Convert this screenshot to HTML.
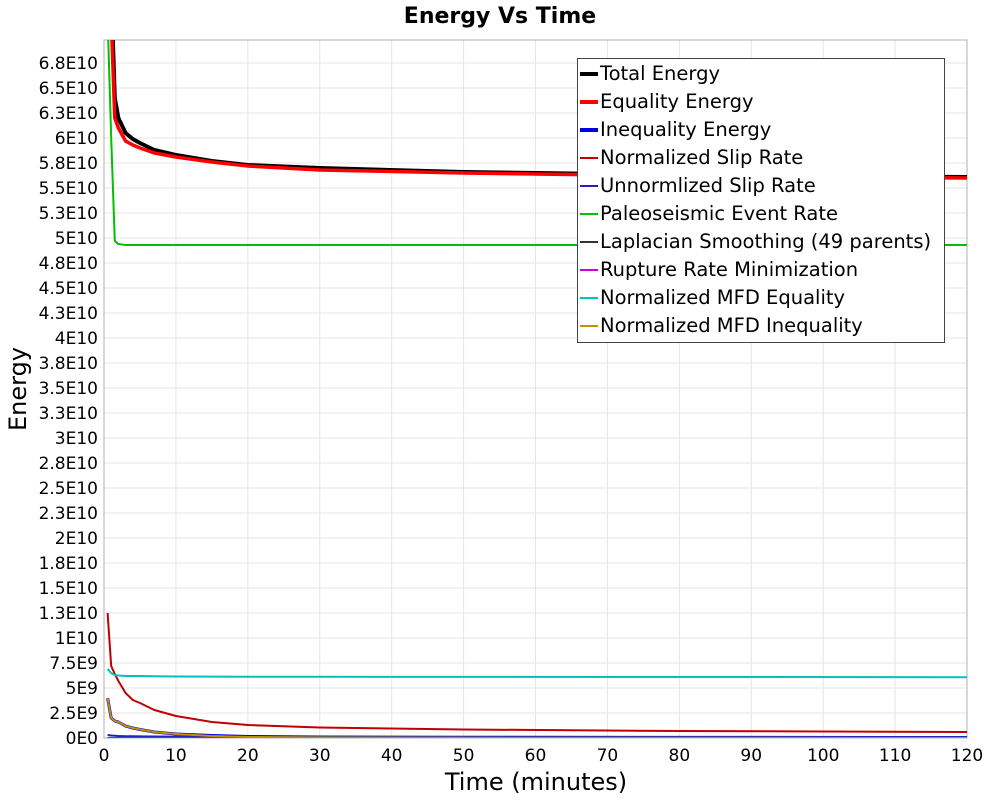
<!DOCTYPE html>
<html><head><meta charset="utf-8"><style>
body{margin:0;background:#fff;font-family:"Liberation Sans","DejaVu Sans",sans-serif}
svg text{font-family:"DejaVu Sans","Liberation Sans",sans-serif}
</style></head><body>
<svg id="chart" width="1000" height="800" xmlns="http://www.w3.org/2000/svg">
<text x="500" y="23" text-anchor="middle" font-size="22" font-weight="bold">Energy Vs Time</text>
<g id="grid"></g><g id="axes"></g><g id="series"></g><g id="legend"></g>
<text x="536" y="790" text-anchor="middle" font-size="24">Time (minutes)</text>
<text x="26" y="389" text-anchor="middle" font-size="24" transform="rotate(-90 26 389)">Energy</text>
</svg>
<script>
const xTicks=[0,10,20,30,40,50,60,70,80,90,100,110,120];
const yTickLabels=["0E0","2.5E9","5E9","7.5E9","1E10","1.3E10","1.5E10","1.8E10","2E10","2.3E10","2.5E10","2.8E10","3E10","3.3E10","3.5E10","3.8E10","4E10","4.3E10","4.5E10","4.8E10","5E10","5.3E10","5.5E10","5.8E10","6E10","6.3E10","6.5E10","6.8E10"];
const times=[0.5,1,1.5,2,3,4,5,7,10,15,20,30,50,80,120];
const totalEnergy=[9.0,7.5,6.4,6.2,6.05,5.99,5.95,5.88,5.83,5.77,5.73,5.70,5.66,5.63,5.61];
const equalityEnergy=[8.8,7.2,6.2,6.1,5.97,5.93,5.9,5.85,5.81,5.76,5.72,5.68,5.65,5.62,5.60];
const inequalityEnergy=[0.40,0.20,0.17,0.16,0.12,0.10,0.085,0.06,0.04,0.025,0.015,0.01,0.008,0.006,0.005];
const normSlip=[1.25,0.72,0.64,0.57,0.45,0.38,0.35,0.28,0.22,0.16,0.13,0.105,0.085,0.07,0.06];
const unnormSlip=[0.03,0.025,0.022,0.02,0.018,0.017,0.016,0.015,0.014,0.013,0.012,0.011,0.01,0.01,0.01];
const paleo=[7.2,6.0,4.97,4.94,4.93,4.93,4.93,4.93,4.93,4.93,4.93,4.93,4.93,4.93,4.93];
const laplacian=[0,0,0,0,0,0,0,0,0,0,0,0,0,0,0];
const ruptureMin=[0,0,0,0,0,0,0,0,0,0,0,0,0,0,0];
const mfdEq=[0.69,0.65,0.63,0.625,0.62,0.62,0.62,0.618,0.615,0.614,0.613,0.612,0.611,0.61,0.608];
const mfdIneq=[0.40,0.20,0.17,0.16,0.12,0.10,0.085,0.06,0.04,0.02,0.01,0.005,0.002,0.001,0];
const NS="http://www.w3.org/2000/svg";
const X0=104,X1=967,Y0=738,YT=40;
const sx=t=>X0+(t/120)*(X1-X0);
const sy=v=>Y0-v*100; // v in units of 1E10
function mk(p,tag,at){const e=document.createElementNS(NS,tag);for(const k in at)e.setAttribute(k,at[k]);p.appendChild(e);return e;}
const grid=document.getElementById('grid'),axes=document.getElementById('axes'),ser=document.getElementById('series'),leg=document.getElementById('legend');
const clip=mk(document.getElementById('chart'),'clipPath',{id:'pc'});mk(clip,'rect',{x:X0,y:YT,width:X1-X0,height:Y0-YT});
yTickLabels.forEach((l,i)=>{const y=sy(i*0.25);
 const g=mk(grid,'line',{x1:X0,x2:X1,y1:y,y2:y,stroke:'#e6e6e6','stroke-width':1});
 
 const t=mk(axes,'text',{x:X0-6,y:y+6,'text-anchor':'end','font-size':17});t.textContent=l;
 });
xTicks.forEach(v=>{const x=sx(v);
 const g=mk(grid,'line',{x1:x,x2:x,y1:YT,y2:Y0,stroke:'#e6e6e6','stroke-width':1});
 
 const t=mk(axes,'text',{x:x,y:Y0+23,'text-anchor':'middle','font-size':17});t.textContent=v;
 });
const frame=mk(axes,'rect',{x:X0,y:YT,width:X1-X0,height:Y0-YT,fill:'none',stroke:'#b0b0b0'});

const series=[
 ["Total Energy",totalEnergy,'#000',4],
 ["Equality Energy",equalityEnergy,'#f00',3.5],
 ["Inequality Energy",inequalityEnergy,'#0000e0',3],
 ["Normalized Slip Rate",normSlip,'#c00000',2],
 ["Unnormlized Slip Rate",unnormSlip,'#2020c0',2],
 ["Paleoseismic Event Rate",paleo,'#00c000',2],
 ["Laplacian Smoothing (49 parents)",laplacian,'#333',2],
 ["Rupture Rate Minimization",ruptureMin,'#d000d0',2],
 ["Normalized MFD Equality",mfdEq,'#00c0c0',2],
 ["Normalized MFD Inequality",mfdIneq,'#c09000',2]];
series.forEach(([name,d,c,w],i)=>{
 const p=mk(ser,'polyline',{points:d.map((v,j)=>sx(times[j])+','+sy(v)).join(' '),fill:'none',stroke:c,'stroke-width':w,'clip-path':'url(#pc)','stroke-linejoin':'round'});
 
 
});
const box=mk(leg,'rect',{x:577.5,y:58.5,width:367,height:284,fill:'#fff',stroke:'#444'});

series.forEach(([name,d,c,w],i)=>{const y=74+i*28;
 const l=mk(leg,'line',{x1:580,x2:598,y1:y,y2:y,stroke:c,'stroke-width':i<3?4:2});
 
 const t=mk(leg,'text',{x:600,y:y+6,'font-size':19.5});t.textContent=name;
 });
</script>
</body></html>
